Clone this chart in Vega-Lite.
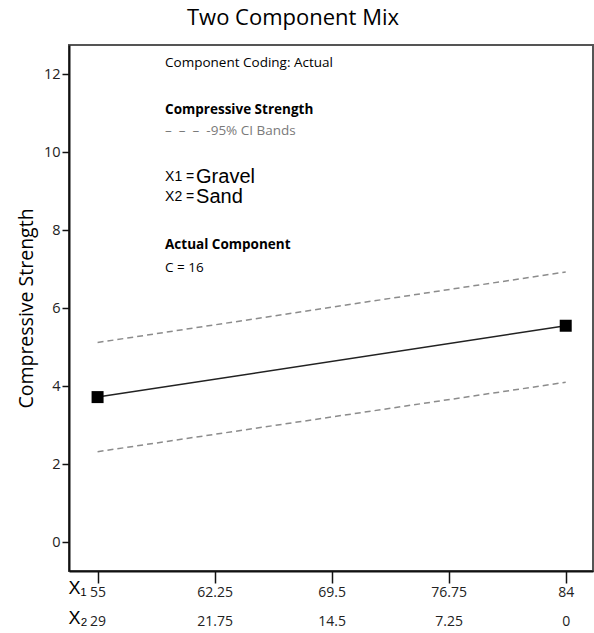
{
  "$schema": "https://vega.github.io/schema/vega-lite/v6.json",
  "autosize": "none",
  "width": 524,
  "height": 526,
  "padding": {"left": 69, "top": 45, "right": 1, "bottom": 62},
  "background": "white",
  "title": {"text": "Two Component Mix", "font": "Open Sans", "fontSize": 22, "fontWeight": "normal", "color": "#000", "anchor": "middle", "dx": -38, "baseline": "alphabetic", "offset": -2},
  "config": {
    "view": {"stroke": "#555", "strokeWidth": 2},
    "axis": {"grid": false, "labelFont": "Open Sans", "titleFont": "Open Sans", "labelColor": "#222", "titleColor": "#000", "domainColor": "#111", "domainWidth": 2, "tickColor": "#111", "tickWidth": 1.5}
  },
  "encoding": {
    "x": {"field": "x", "type": "quantitative", "scale": {"domain": [53.23, 85.69], "nice": false, "zero": false},
      "axis": {"values": [55, 62.25, 69.5, 76.75, 84],
        "labelExpr": "datum.value == 55 ? ['55','29'] : datum.value == 62.25 ? ['62.25','21.75'] : datum.value == 69.5 ? ['69.5','14.5'] : datum.value == 76.75 ? ['76.75','7.25'] : ['84','0']",
        "tickSize": 12, "labelFontSize": 14, "labelLineHeight": 29, "labelPadding": 2,
        "title": ["X₁", "X₂"], "titleFont": "Liberation Sans", "titleFontSize": 18, "titleFontWeight": "normal",
        "titleX": -1, "titleY": 22, "titleAlign": "left", "titleBaseline": "alphabetic", "titleLineHeight": 30, "titleAngle": 0}},
    "y": {"field": "y", "type": "quantitative", "scale": {"domain": [-0.74, 12.75], "nice": false, "zero": false},
      "axis": {"values": [0, 2, 4, 6, 8, 10, 12], "tickSize": 7, "labelPadding": 2, "labelFontSize": 14.5,
        "title": "Compressive Strength", "titleFontSize": 19.5, "titleFontWeight": "normal", "titlePadding": 7}}
  },
  "layer": [
    {
      "data": {"values": [
        {"band": "upper", "x": 55, "y": 5.12},
        {"band": "upper", "x": 84, "y": 6.93},
        {"band": "lower", "x": 55, "y": 2.32},
        {"band": "lower", "x": 84, "y": 4.10}
      ]},
      "mark": {"type": "line", "color": "#8c8c8c", "strokeWidth": 1.5, "strokeDash": [6, 4]},
      "encoding": {"detail": {"field": "band"}}
    },
    {
      "data": {"values": [
        {"x": 55, "y": 3.72},
        {"x": 84, "y": 5.55}
      ]},
      "layer": [
        {"mark": {"type": "line", "color": "#222", "strokeWidth": 1.5}, "encoding": {}},
        {"mark": {"type": "point", "shape": "square", "size": 144, "filled": true, "color": "#000", "opacity": 1}, "encoding": {}}
      ]
    },
    {
      "data": {"values": [
        {"x": 59.18, "y": 12.28, "label": "Component Coding: Actual"},
        {"x": 59.18, "y": 7.04, "label": "C = 16"}
      ]},
      "mark": {"type": "text", "align": "left", "baseline": "middle", "font": "Open Sans", "fontSize": 13.5, "color": "#000"},
      "encoding": {"text": {"field": "label"}}
    },
    {
      "data": {"values": [
        {"x": 59.18, "y": 11.09, "label": "Compressive Strength"},
        {"x": 59.18, "y": 7.62, "label": "Actual Component"}
      ]},
      "mark": {"type": "text", "align": "left", "baseline": "middle", "font": "Open Sans", "fontSize": 13.5, "fontWeight": "bold", "color": "#000"},
      "encoding": {"text": {"field": "label"}}
    },
    {
      "data": {"values": [
        {"x": 59.18, "y": 10.55, "label": "– \u00a0– \u00a0– \u00a0-95% CI Bands"}
      ]},
      "mark": {"type": "text", "align": "left", "baseline": "middle", "font": "Open Sans", "fontSize": 13.5, "color": "#7a7a7a"},
      "encoding": {"text": {"field": "label"}}
    },
    {
      "data": {"values": [
        {"x": 59.18, "y": 9.37, "label": "X1 ="},
        {"x": 59.18, "y": 8.86, "label": "X2 ="}
      ]},
      "mark": {"type": "text", "align": "left", "baseline": "middle", "font": "Liberation Sans", "fontSize": 14, "color": "#000"},
      "encoding": {"text": {"field": "label"}}
    },
    {
      "data": {"values": [
        {"x": 61.1, "y": 9.37, "label": "Gravel"},
        {"x": 61.1, "y": 8.86, "label": "Sand"}
      ]},
      "mark": {"type": "text", "align": "left", "baseline": "middle", "font": "Liberation Sans", "fontSize": 20, "color": "#000"},
      "encoding": {"text": {"field": "label"}}
    }
  ]
}
